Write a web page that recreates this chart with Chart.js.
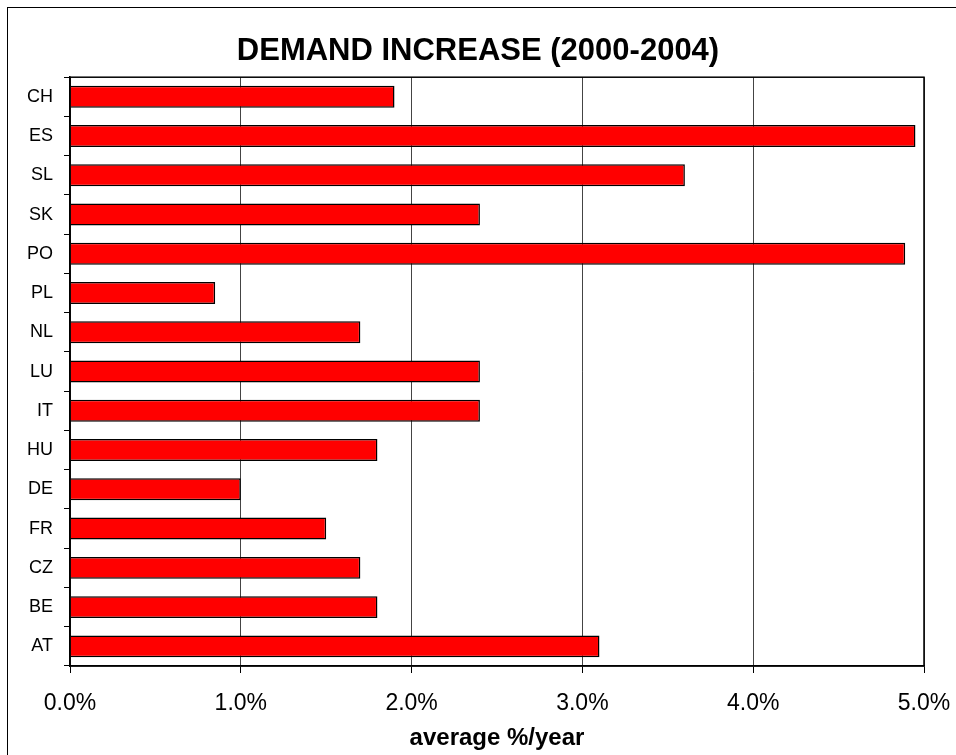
<!DOCTYPE html>
<html>
<head>
<meta charset="utf-8">
<script src="https://cdn.jsdelivr.net/npm/chart.js@4"></script>
<style>
  body { margin: 0; background: #fff; }
  #wrap { position: relative; width: 956px; height: 755px; }
  #frame { position: absolute; left: 7px; top: 7px; width: 960px; height: 760px;
           border-left: 1.5px solid #000; border-top: 1.5px solid #000; }
  #chart { position: absolute; left: 0; top: 0; }
</style>
</head>
<body>
<div id="wrap">
  <div id="frame"></div>
  <canvas id="chart" width="956" height="755"></canvas>
</div>
<script>
    // Paises (de arriba a abajo) y crecimiento medio de la demanda en %/año
    const countries = ['CH', 'ES', 'SL', 'SK', 'PO', 'PL', 'NL', 'LU', 'IT', 'HU', 'DE', 'FR', 'CZ', 'BE', 'AT'];
    const demandIncrease = [1.9, 4.95, 3.6, 2.4, 4.89, 0.85, 1.7, 2.4, 2.4, 1.8, 1.0, 1.5, 1.7, 1.8, 3.1];
    const xTicks = [0, 1, 2, 3, 4, 5];

    const fontFamily = '"Liberation Sans", Arial, sans-serif';

    // borde del área de trazado
    const plotBox = {
        id: 'plotBox',
        afterDraw(chart) {
            const { ctx, chartArea: a } = chart;
            ctx.save();
            ctx.strokeStyle = '#000';
            ctx.lineWidth = 1.5;
            ctx.strokeRect(a.left, a.top, a.right - a.left, a.bottom - a.top);
            ctx.restore();
        }
    };

    const ctx = document.getElementById('chart').getContext('2d');
    new Chart(ctx, {
        type: 'bar',
        data: {
            labels: countries,
            datasets: [{
                data: demandIncrease,
                backgroundColor: '#ff0000',
                borderColor: '#000',
                borderWidth: 1.5,
                categoryPercentage: 1,
                barPercentage: 0.56
            }]
        },
        options: {
            indexAxis: 'y',
            responsive: false,
            animation: false,
            layout: { padding: 0 },
            plugins: {
                legend: { display: false },
                tooltip: { enabled: false },
                title: {
                    display: true,
                    text: 'DEMAND INCREASE (2000-2004)',
                    color: '#000',
                    font: { family: fontFamily, size: 31, weight: 'bold' },
                    padding: { top: 33, bottom: 7 }
                }
            },
            scales: {
                x: {
                    min: 0,
                    max: 5,
                    afterBuildTicks: (scale) => { scale.ticks = xTicks.map(v => ({ value: v })); },
                    afterFit: (scale) => { scale.height = 89; scale.paddingRight = 32; },
                    ticks: {
                        color: '#000',
                        padding: 17,
                        font: { family: fontFamily, size: 23 },
                        callback: (v) => v.toFixed(1) + '%'
                    },
                    grid: { color: '#444', lineWidth: 1, tickLength: 7, tickColor: '#000' },
                    border: { color: '#000', width: 1.5 },
                    title: {
                        display: true,
                        text: 'average %/year',
                        color: '#000',
                        font: { family: fontFamily, size: 24, weight: 'bold' },
                        padding: { top: 0, bottom: 2 }
                    }
                },
                y: {
                    afterFit: (scale) => { scale.width = 70; },
                    ticks: {
                        color: '#000',
                        padding: 11,
                        font: { family: fontFamily, size: 18 }
                    },
                    grid: { drawOnChartArea: false, tickLength: 6, color: '#000' },
                    border: { color: '#000', width: 1.5 }
                }
            }
        },
        plugins: [plotBox]
    });
</script>
</body>
</html>
